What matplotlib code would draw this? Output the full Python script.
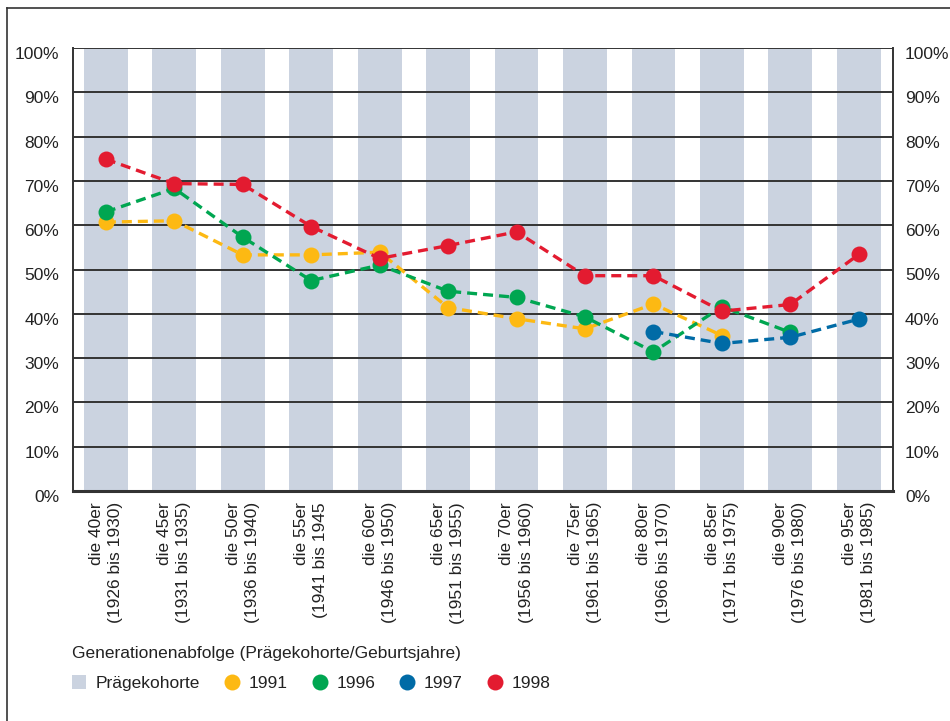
import numpy as np
import matplotlib
matplotlib.use("Agg")
import matplotlib.pyplot as plt
from matplotlib.patches import Patch
from matplotlib.lines import Line2D
import matplotlib.transforms as mtransforms

plt.rcParams['font.family'] = ['Liberation Sans', 'DejaVu Sans']

# Data
cohorts = ["die 40er\n(1926 bis 1930)", "die 45er\n(1931 bis 1935)",
           "die 50er\n(1936 bis 1940)", "die 55er\n(1941 bis 1945",
           "die 60er\n(1946 bis 1950)", "die 65er\n(1951 bis 1955)",
           "die 70er\n(1956 bis 1960)", "die 75er\n(1961 bis 1965)",
           "die 80er\n(1966 bis 1970)", "die 85er\n(1971 bis 1975)",
           "die 90er\n(1976 bis 1980)", "die 95er\n(1981 bis 1985)"]
nan = np.nan
v1991 = [60.7, 61.0, 53.3, 53.3, 53.9, 41.4, 38.9, 36.6, 42.2, 35.1, nan, nan]
v1996 = [63.0, 68.3, 57.3, 47.5, 51.0, 45.1, 43.7, 39.3, 31.4, 41.6, 35.8, nan]
v1997 = [nan, nan, nan, nan, nan, nan, nan, nan, 36.0, 33.3, 34.7, 38.8]
v1998 = [74.9, 69.4, 69.2, 59.7, 52.5, 55.4, 58.5, 48.6, 48.6, 40.6, 42.1, 53.4]

series = [("1991", v1991, "#fdb913"),
          ("1996", v1996, "#00a651"),
          ("1997", v1997, "#006ba6"),
          ("1998", v1998, "#e31b30")]
bar_color = "#cbd3e0"
text_color = "#222222"

fig = plt.figure(figsize=(9.5, 7.21), dpi=100)
ax = fig.add_axes([73 / 950, 230 / 721, 820 / 950, 443 / 721])

x = np.arange(len(cohorts))
ax.bar(x, 100, width=0.64, color=bar_color, zorder=0.5)

for name, vals, col in series:
    ax.plot(x, vals, color=col, lw=2.4, ls=(0, (3.0, 1.8)),
            marker="o", ms=11.5, markeredgewidth=0, zorder=3)

ax.set_xlim(-0.48, len(cohorts) - 0.5)
ax.set_ylim(0, 100)
ax.set_yticks(np.arange(0, 101, 10))
ax.set_yticklabels([f"{v}%" for v in range(0, 101, 10)])
ax.yaxis.grid(True, color="#333333", lw=1.4)
ax.tick_params(axis="y", length=0, pad=10, labelsize=12.5,
               labelcolor=text_color, right=True, labelright=True)
# labels sit a little below their gridlines
offset = mtransforms.ScaledTranslation(0, -5 / 100, fig.dpi_scale_trans)
shift_r = mtransforms.ScaledTranslation(-2 / 100, 0, fig.dpi_scale_trans)
for t in ax.yaxis.get_major_ticks():
    t.label1.set_transform(t.label1.get_transform() + offset)
    t.label2.set_transform(t.label2.get_transform() + offset + shift_r)

ax.set_xticks(x)
ax.set_xticklabels(cohorts, rotation=90, ha="center", va="top",
                   multialignment="right", fontsize=12.5, color=text_color,
                   linespacing=1.35)
ax.tick_params(axis="x", length=0, pad=8)

for s in ["left", "right"]:
    ax.spines[s].set_color("#333333")
    ax.spines[s].set_linewidth(1.4)
ax.spines["top"].set_visible(False)
ax.spines["bottom"].set_color("#333333")
ax.spines["bottom"].set_linewidth(2.2)

# Frame lines of the figure (left and top)
fig.add_artist(Line2D([7 / 950, 7 / 950], [0, 1 - 8 / 721],
                      transform=fig.transFigure, color="#333333", lw=1.2))
fig.add_artist(Line2D([7 / 950, 1], [1 - 8 / 721, 1 - 8 / 721],
                      transform=fig.transFigure, color="#333333", lw=1.2))

# Legend
handles = [Patch(facecolor=bar_color, edgecolor="none", label="Prägekohorte")]
for name, vals, col in series:
    handles.append(Line2D([], [], ls="none", marker="o", ms=11.5,
                          markeredgewidth=0, color=col, label=name))
leg = fig.legend(handles=handles, loc="upper left",
                 bbox_to_anchor=(56 / 950, 1 - 630 / 721), ncol=5,
                 frameon=False, fontsize=12.5, handlelength=0.85,
                 handleheight=0.85, handletextpad=0.55, columnspacing=1.4,
                 labelspacing=0.85,
                 title="Generationenabfolge (Prägekohorte/Geburtsjahre)",
                 title_fontsize=12.5, alignment="left", labelcolor=text_color)
leg.get_title().set_color(text_color)

fig.savefig("out.png", dpi=100)
